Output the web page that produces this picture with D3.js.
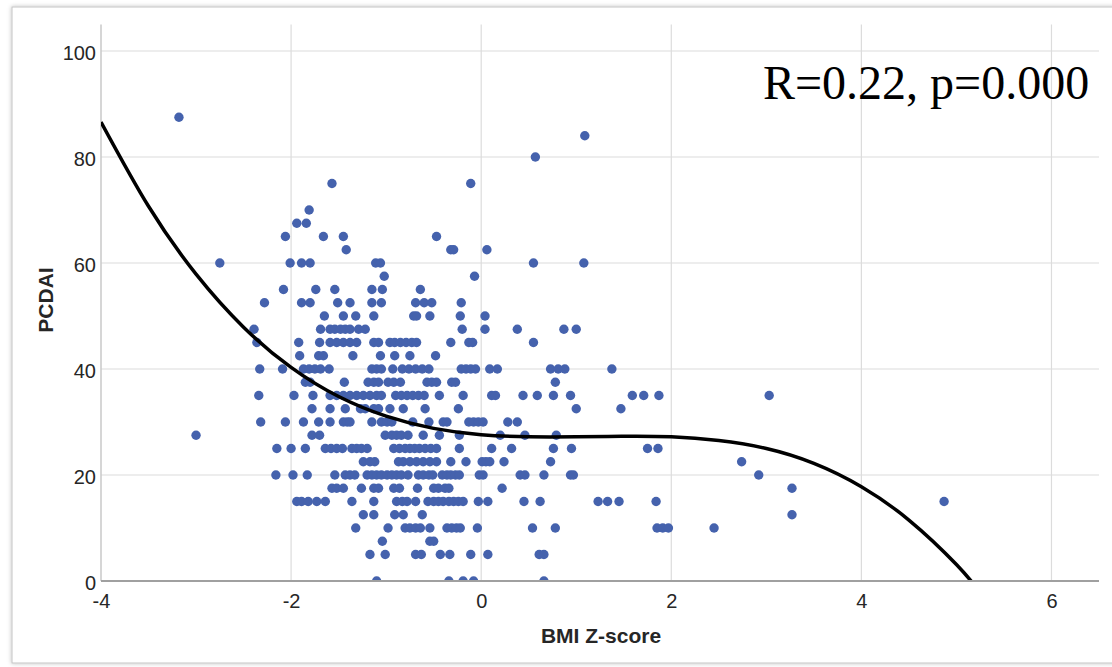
<!DOCTYPE html>
<html>

<head>
  <meta charset="UTF-8">
  <script src="https://d3js.org/d3.v7.js"></script>
  <style>
    body { margin: 0; background: #fff; }
  </style>
</head>

<body>
  <div id="chart"></div>

  <script>
    // data

    // PCDAI score of each row of dots, top to bottom
    const pcdaiLevels = [87.5, 84, 80, 75, 70, 67.5, 65, 62.5, 60, 57.5, 55, 52.5, 50, 47.5, 45, 42.5,
      40, 37.5, 35, 32.5, 30, 27.5, 25, 22.5, 20, 17.5, 15, 12.5, 10, 7.5, 5, 0];

    // BMI Z-scores of the patients on each row
    const bmiZ = [
      [-3.18],
      [1.09],
      [0.57],
      [-1.57, -0.11],
      [-1.81],
      [-1.94, -1.84],
      [-2.06, -1.66, -1.45, -0.47],
      [-1.42, -0.32, -0.29, 0.06],
      [-2.75, -2.01, -1.89, -1.80, -1.11, -1.06, 0.55, 1.08],
      [-1.02, -0.07],
      [-2.08, -1.74, -1.54, -1.15, -1.04, -0.64],
      [-2.28, -1.89, -1.80, -1.51, -1.38, -1.15, -1.05, -0.69, -0.60, -0.52, -0.21],
      [-1.65, -1.45, -1.32, -1.13, -0.71, -0.68, -0.54, -0.22, 0.04],
      [-2.39, -1.69, -1.59, -1.54, -1.48, -1.43, -1.38, -1.29, -1.22, -0.20, 0.04, 0.38, 0.87, 1.0],
      [-2.36, -1.92, -1.70, -1.59, -1.52, -1.45, -1.38, -1.31, -1.13, -1.08, -0.96, -0.91, -0.85,
        -0.79, -0.73, -0.68, -0.32, -0.13, -0.09, 0.55],
      [-1.91, -1.71, -1.66, -1.35, -1.06, -0.91, -0.75, -0.48],
      [-2.33, -2.09, -1.87, -1.81, -1.75, -1.69, -1.60, -1.15, -1.10, -1.05, -0.93, -0.83, -0.76,
        -0.69, -0.62, -0.55, -0.21, -0.16, -0.11, -0.06, 0.09, 0.17, 0.73, 0.81, 0.88, 1.375],
      [-1.85, -1.80, -1.44, -1.19, -1.13, -1.08, -0.98, -0.92, -0.85, -0.57, -0.52, -0.47, -0.31,
        -0.27, 0.78],
      [-2.34, -1.97, -1.77, -1.59, -1.52, -1.45, -1.38, -1.31, -1.24, -1.17, -1.10, -1.05, -0.90,
        -0.84, -0.78, -0.72, -0.66, -0.60, -0.44, -0.19, 0.11, 0.15, 0.44, 0.59, 0.76, 0.94, 1.59,
        1.71, 1.87, 3.03],
      [-1.78, -1.59, -1.43, -1.27, -1.22, -1.13, -1.08, -0.96, -0.82, -0.59, -0.24, 1.0, 1.47],
      [-2.32, -2.06, -1.87, -1.71, -1.59, -1.45, -1.41, -1.38, -1.15, -1.05, -0.99, -0.94, -0.72,
        -0.55, -0.40, -0.36, -0.13, -0.08, -0.03, 0.02, 0.28, 0.38],
      [-3.0, -1.78, -1.70, -1.01, -0.94, -0.89, -0.84, -0.77, -0.61, -0.44, -0.23, 0.20, 0.46, 0.79],
      [-2.15, -2.0, -1.85, -1.64, -1.58, -1.52, -1.46, -1.36, -1.31, -1.26, -1.20, -0.92, -0.86,
        -0.80, -0.75, -0.70, -0.65, -0.59, -0.53, -0.47, -0.23, 0.11, 0.32, 0.76, 0.95, 1.75, 1.86],
      [-1.24, -1.17, -1.12, -0.87, -0.82, -0.75, -0.68, -0.61, -0.54, -0.47, -0.32, -0.16, 0.01,
        0.05, 0.09, 0.24, 0.73, 2.74],
      [-2.16, -1.98, -1.83, -1.54, -1.43, -1.38, -1.33, -1.20, -1.15, -1.10, -1.05, -0.99, -0.94,
        -0.89, -0.84, -0.77, -0.66, -0.61, -0.55, -0.51, -0.41, -0.36, -0.32, -0.27, -0.23, -0.02,
        0.02, 0.41, 0.46, 0.66, 0.94, 0.97, 2.92],
      [-1.57, -1.52, -1.45, -1.26, -1.13, -1.08, -0.92, -0.86, -0.67, -0.50, -0.45, -0.38, -0.34,
        0.22, 3.27],
      [-1.94, -1.89, -1.82, -1.73, -1.64, -1.36, -1.13, -0.89, -0.83, -0.78, -0.69, -0.56, -0.50,
        -0.45, -0.40, -0.34, -0.29, -0.24, -0.19, -0.03, 0.07, 0.45, 0.62, 1.23, 1.33, 1.45, 1.84,
        4.87],
      [-1.24, -1.13, -0.91, -0.82, -0.62, 3.27],
      [-1.32, -0.98, -0.80, -0.75, -0.69, -0.64, -0.54, -0.36, -0.31, -0.26, -0.22, -0.04, 0.54,
        0.78, 1.85, 1.91, 1.97, 2.45],
      [-1.04, -0.54, -0.50],
      [-1.17, -1.01, -0.69, -0.63, -0.43, -0.33, -0.11, 0.07, 0.61, 0.66],
      [-1.10, -0.34, -0.19, -0.08, 0.66]
    ];

    // cubic fit line
    const fitX = [-4, -3.5, -3, -2.5, -2, -1.5, -1, -0.5, 0, 0.5, 1, 1.5, 2, 2.5, 3, 3.5, 4, 4.5, 5, 5.3];
    const fitY = [86.6, 70.7, 57.9, 47.9, 40.3, 34.8, 31.1, 28.8, 27.6, 27.2, 27.2, 27.3, 27.2, 26.5,
      25.0, 22.2, 17.8, 11.5, 3.1, -3.2];

    const xTicks = [-4, -2, 0, 2, 4, 6];
    const yTicks = [0, 20, 40, 60, 80, 100];
    const annotation = 'R=0.22, p=0.000';

    const points = pcdaiLevels.flatMap((p, i) => bmiZ[i].map(z => ({ z, p })));

    // set up

    const W = 1112, H = 667;
    const plot = { left: 101, right: 1099, top: 24.5, bottom: 581 };

    const svg = d3.select('#chart')
      .append('svg')
        .attr('width', W)
        .attr('height', H);

    const defs = svg.append('defs');
    defs.append('clipPath').attr('id', 'plotclip')
      .append('rect')
        .attr('x', plot.left)
        .attr('y', plot.top)
        .attr('width', plot.right - plot.left)
        .attr('height', plot.bottom - plot.top);

    const shadow = defs.append('filter').attr('id', 'shadow')
        .attr('x', '-5%').attr('y', '-5%').attr('width', '110%').attr('height', '110%');
    shadow.append('feDropShadow')
        .attr('dx', 0).attr('dy', 0).attr('stdDeviation', 2)
        .attr('flood-color', '#000').attr('flood-opacity', 0.25);

    // outer frame
    svg.append('rect')
        .attr('x', 12).attr('y', 7)
        .attr('width', 1130).attr('height', 656)
        .attr('fill', '#fff')
        .attr('stroke', '#c4c4c4')
        .attr('stroke-width', 1)
        .attr('filter', 'url(#shadow)');

    // scales

    const x = d3.scaleLinear()
        .domain([-4, 6.5])
        .range([plot.left, plot.right]);

    const y = d3.scaleLinear()
        .domain([0, 105])
        .range([plot.bottom, plot.top]);

    // grid

    svg.append('g')
      .selectAll('line')
      .data(yTicks.filter(d => d > 0))
      .join('line')
        .attr('x1', plot.left).attr('x2', plot.right)
        .attr('y1', d => y(d)).attr('y2', d => y(d))
        .attr('stroke', '#dcdcdc')
        .attr('stroke-width', 1.2);

    svg.append('g')
      .selectAll('line')
      .data(xTicks.filter(d => d > -4))
      .join('line')
        .attr('x1', d => x(d)).attr('x2', d => x(d))
        .attr('y1', plot.top).attr('y2', plot.bottom)
        .attr('stroke', '#dcdcdc')
        .attr('stroke-width', 1.2);

    // axis lines
    svg.append('line')
        .attr('x1', plot.left).attr('x2', plot.left)
        .attr('y1', plot.top).attr('y2', plot.bottom)
        .attr('stroke', '#c8c8c8')
        .attr('stroke-width', 1.5);

    // dots

    const marks = svg.append('g').attr('clip-path', 'url(#plotclip)');

    marks.selectAll('circle')
      .data(points)
      .join('circle')
        .attr('cx', d => x(d.z))
        .attr('cy', d => y(d.p))
        .attr('r', 4.7)
        .attr('fill', '#4562ad');

    // fit line
    const line = d3.line()
        .x((d, i) => x(fitX[i]))
        .y(d => y(d))
        .curve(d3.curveNatural);

    marks.append('path')
        .attr('d', line(fitY))
        .attr('fill', 'none')
        .attr('stroke', '#000')
        .attr('stroke-width', 3.5);

    svg.append('line')
        .attr('x1', plot.left).attr('x2', plot.right)
        .attr('y1', plot.bottom).attr('y2', plot.bottom)
        .attr('stroke', '#a0a0a0')
        .attr('stroke-width', 2);

    // axes labels

    const xAxis = d3.axisBottom(x).tickValues(xTicks).tickSize(0).tickPadding(13)
        .tickFormat(d => String(d));
    svg.append('g')
        .attr('transform', `translate(0,${plot.bottom})`)
        .call(xAxis)
        .call(g => g.select('.domain').remove())
        .call(g => g.selectAll('text')
          .attr('font-family', 'Liberation Sans, Arial, sans-serif')
          .attr('font-size', 20)
          .attr('fill', '#262626'));

    const yAxis = d3.axisLeft(y).tickValues(yTicks).tickSize(0).tickPadding(5)
        .tickFormat(d => String(d));
    svg.append('g')
        .attr('transform', `translate(${plot.left},0)`)
        .call(yAxis)
        .call(g => g.select('.domain').remove())
        .call(g => g.selectAll('text')
          .attr('font-family', 'Liberation Sans, Arial, sans-serif')
          .attr('font-size', 20)
          .attr('dy', '0.42em')
          .attr('fill', '#262626'));

    svg.append('text')
        .attr('x', 601)
        .attr('y', 643)
        .attr('text-anchor', 'middle')
        .attr('font-family', 'Liberation Sans, Arial, sans-serif')
        .attr('font-weight', 'bold')
        .attr('font-size', 21)
        .attr('fill', '#262626')
        .text('BMI Z-score');

    svg.append('text')
        .attr('transform', 'translate(53,300) rotate(-90)')
        .attr('text-anchor', 'middle')
        .attr('font-family', 'Liberation Sans, Arial, sans-serif')
        .attr('font-weight', 'bold')
        .attr('font-size', 21)
        .attr('fill', '#262626')
        .text('PCDAI');

    svg.append('text')
        .attr('x', 763)
        .attr('y', 99)
        .attr('font-family', 'Liberation Serif, Times New Roman, serif')
        .attr('font-size', 48)
        .attr('fill', '#000')
        .text(annotation);

  </script>
</body>

</html>
